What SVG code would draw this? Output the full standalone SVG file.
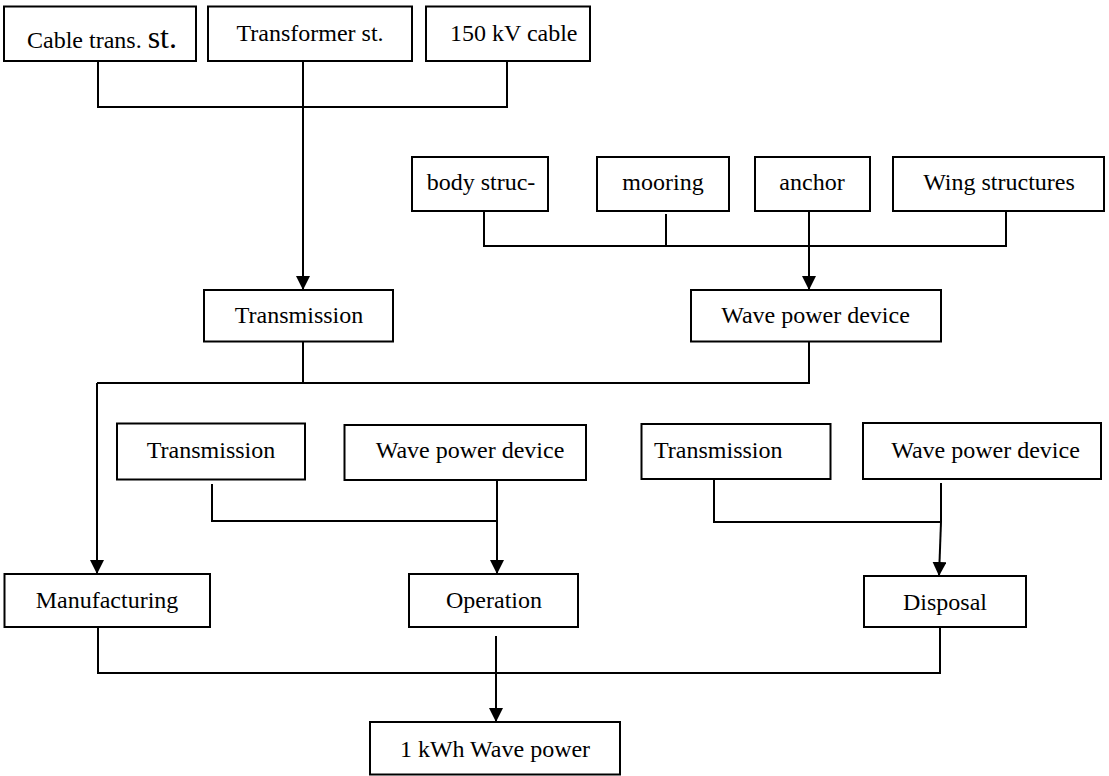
<svg xmlns="http://www.w3.org/2000/svg" width="1109" height="776" viewBox="0 0 1109 776">
<defs>
<style>
.box{fill:#fff;stroke:#000;stroke-width:2}
.t{font-family:"Liberation Serif","Times New Roman",serif;font-size:24px;fill:#000}
.c{text-anchor:middle}
.ln{fill:none;stroke:#000;stroke-width:2}
.ar{fill:none;stroke:#000;stroke-width:2;marker-end:url(#arr)}
</style>
<marker id="arr" markerUnits="userSpaceOnUse" markerWidth="14" markerHeight="14" refX="14" refY="7" orient="auto">
<path d="M0,0 L14,7 L0,14 Z" fill="#000"/>
</marker>
</defs>
<rect width="1109" height="776" fill="#fff"/>

<g id="connectors">
<polyline class="ln" points="98,61 98,107 507,107 507,61"/>
<line class="ar" x1="303" y1="61" x2="303" y2="290"/>
<polyline class="ln" points="484,211 484,246 1006,246 1006,211"/>
<line class="ln" x1="666" y1="214" x2="666" y2="246"/>
<line class="ar" x1="809" y1="211" x2="809" y2="290"/>
<polyline class="ln" points="303,337 303,383"/>
<polyline class="ln" points="809,342 809,383 97,383"/>
<line class="ar" x1="97" y1="383" x2="97" y2="574"/>
<polyline class="ln" points="212,484 212,521 497,521"/>
<line class="ar" x1="497" y1="480" x2="497" y2="574"/>
<polyline class="ln" points="714,477 714,522 941,522"/>
<line class="ln" x1="941" y1="483" x2="941" y2="522"/>
<line class="ar" x1="941" y1="522" x2="939" y2="576"/>
<polyline class="ln" points="98,627 98,673 940,673 940,627"/>
<line class="ar" x1="496" y1="636" x2="496" y2="722"/>
</g>

<g id="cable-trans">
<rect class="box" x="4" y="6.5" width="192" height="54.5"/>
<text class="t" x="27" y="48">Cable trans. <tspan font-size="32">st.</tspan></text>
</g>
<g id="transformer">
<rect class="box" x="208" y="6.5" width="204" height="54.5"/>
<text class="t c" x="310" y="41">Transformer st.</text>
</g>
<g id="cable150">
<rect class="box" x="426" y="6.5" width="164" height="54.5"/>
<text class="t" x="450" y="41">150 kV cable</text>
</g>

<g id="body">
<rect class="box" x="412" y="157" width="136" height="54"/>
<text class="t c" x="481" y="190">body struc-</text>
</g>
<g id="mooring">
<rect class="box" x="597" y="157" width="132" height="54"/>
<text class="t c" x="663" y="190">mooring</text>
</g>
<g id="anchor">
<rect class="box" x="755" y="157" width="115" height="54"/>
<text class="t c" x="812" y="190">anchor</text>
</g>
<g id="wing">
<rect class="box" x="893" y="157" width="211" height="54"/>
<text class="t c" x="999" y="190">Wing structures</text>
</g>

<g id="transmission-1">
<rect class="box" x="204" y="290" width="189" height="51.5"/>
<text class="t c" x="299" y="323">Transmission</text>
</g>
<g id="wpd-1">
<rect class="box" x="691" y="290" width="250" height="51.5"/>
<text class="t c" x="815.5" y="323">Wave power device</text>
</g>

<g id="transmission-2">
<rect class="box" x="117" y="423.5" width="188" height="56"/>
<text class="t c" x="211" y="458">Transmission</text>
</g>
<g id="wpd-2">
<rect class="box" x="344.5" y="425" width="241.5" height="55"/>
<text class="t c" x="470" y="458">Wave power device</text>
</g>
<g id="transmission-3">
<rect class="box" x="641.5" y="424" width="189" height="55"/>
<text class="t" x="654" y="458">Transmission</text>
</g>
<g id="wpd-3">
<rect class="box" x="863" y="423" width="238" height="56"/>
<text class="t c" x="985.5" y="458">Wave power device</text>
</g>

<g id="manufacturing">
<rect class="box" x="4.5" y="574" width="205.5" height="53"/>
<text class="t c" x="107" y="608">Manufacturing</text>
</g>
<g id="operation">
<rect class="box" x="409" y="574" width="169" height="53"/>
<text class="t c" x="494" y="608">Operation</text>
</g>
<g id="disposal">
<rect class="box" x="864" y="576" width="162" height="51"/>
<text class="t c" x="945" y="610">Disposal</text>
</g>

<g id="kwh">
<rect class="box" x="370" y="722" width="250" height="52.5"/>
<text class="t c" x="495" y="757">1 kWh Wave power</text>
</g>
</svg>
